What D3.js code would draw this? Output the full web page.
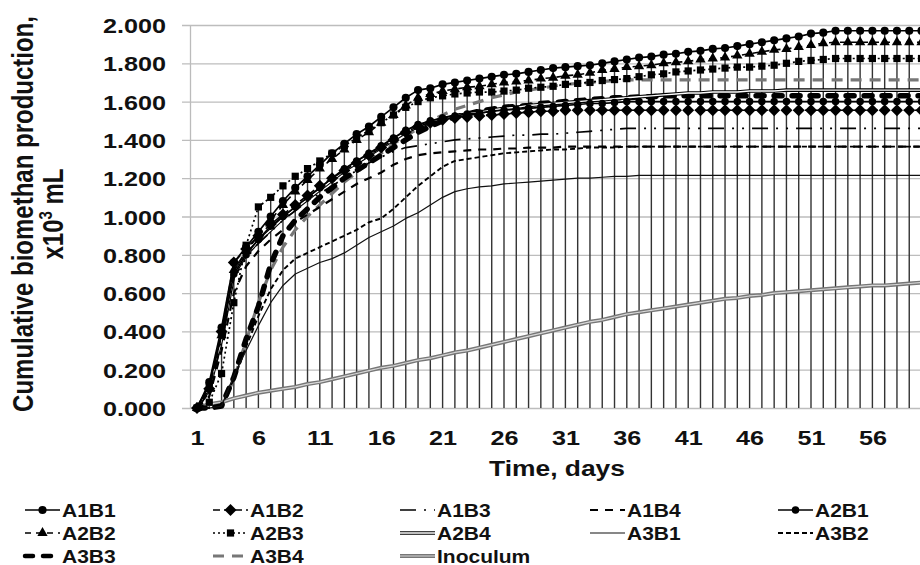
<!DOCTYPE html>
<html>
<head>
<meta charset="utf-8">
<script src="https://cdn.jsdelivr.net/npm/d3@7"></script>
<style>
  html, body { margin: 0; padding: 0; background: #fff; }
  svg { display: block; font-family: "Liberation Sans", Arial, sans-serif; font-weight: bold; }
</style>
</head>
<body>
<svg id="chart" width="920" height="565"></svg>
<script>
// ---- data (x10^3 mL), days 1..60 ----
var days = d3.range(1, 61);
var xTicks = [1, 6, 11, 16, 21, 26, 31, 36, 41, 46, 51, 56];
var yTicks = [0, 0.2, 0.4, 0.6, 0.8, 1.0, 1.2, 1.4, 1.6, 1.8, 2.0];

var A1B1 = [0, 0.135, 0.42, 0.76, 0.84, 0.92, 1.00, 1.08, 1.15, 1.21,
  1.27, 1.33, 1.38, 1.43, 1.47, 1.52, 1.57, 1.62, 1.66, 1.67,
  1.69, 1.70, 1.71, 1.72, 1.73, 1.74, 1.745, 1.755, 1.765, 1.775,
  1.78, 1.785, 1.79, 1.80, 1.81, 1.82, 1.83, 1.835, 1.845, 1.85,
  1.86, 1.865, 1.875, 1.88, 1.89, 1.90, 1.91, 1.92, 1.93, 1.94,
  1.955, 1.96, 1.97, 1.97, 1.97, 1.97, 1.97, 1.97, 1.97, 1.97];
var A1B2 = [0, 0.10, 0.40, 0.76, 0.83, 0.90, 0.96, 1.01, 1.06, 1.11,
  1.16, 1.20, 1.24, 1.28, 1.32, 1.36, 1.40, 1.44, 1.47, 1.49,
  1.505, 1.515, 1.52, 1.525, 1.53, 1.535, 1.54, 1.545, 1.55, 1.55,
  1.555, 1.555, 1.555, 1.555, 1.555, 1.555, 1.555, 1.555, 1.555, 1.555,
  1.555, 1.555, 1.555, 1.555, 1.555, 1.555, 1.555, 1.555, 1.555, 1.555,
  1.555, 1.555, 1.555, 1.555, 1.555, 1.555, 1.555, 1.555, 1.555, 1.555];
var A1B3 = [0, 0.08, 0.35, 0.68, 0.78, 0.86, 0.92, 0.98, 1.03, 1.08,
  1.12, 1.16, 1.20, 1.24, 1.28, 1.31, 1.34, 1.36, 1.37, 1.38,
  1.39, 1.40, 1.405, 1.41, 1.415, 1.42, 1.425, 1.425, 1.43, 1.43,
  1.435, 1.44, 1.445, 1.45, 1.455, 1.46, 1.46, 1.46, 1.46, 1.46,
  1.46, 1.46, 1.46, 1.46, 1.46, 1.46, 1.46, 1.46, 1.46, 1.46,
  1.46, 1.46, 1.46, 1.46, 1.46, 1.46, 1.46, 1.46, 1.46, 1.46];
var A1B4 = [0, 0.06, 0.30, 0.60, 0.74, 0.82, 0.88, 0.93, 0.97, 1.01,
  1.05, 1.09, 1.13, 1.17, 1.20, 1.23, 1.27, 1.30, 1.32, 1.33,
  1.335, 1.34, 1.345, 1.35, 1.35, 1.355, 1.355, 1.36, 1.36, 1.36,
  1.365, 1.365, 1.365, 1.365, 1.365, 1.365, 1.365, 1.365, 1.365, 1.365,
  1.365, 1.365, 1.365, 1.365, 1.365, 1.365, 1.365, 1.365, 1.365, 1.365,
  1.365, 1.365, 1.365, 1.365, 1.365, 1.365, 1.365, 1.365, 1.365, 1.365];
var A2B1 = [0, 0.12, 0.38, 0.70, 0.80, 0.88, 0.95, 1.00, 1.05, 1.10,
  1.15, 1.20, 1.25, 1.29, 1.33, 1.37, 1.41, 1.45, 1.48, 1.50,
  1.515, 1.525, 1.535, 1.54, 1.55, 1.555, 1.56, 1.565, 1.57, 1.575,
  1.58, 1.585, 1.59, 1.59, 1.595, 1.60, 1.60, 1.60, 1.60, 1.60,
  1.60, 1.60, 1.60, 1.60, 1.60, 1.60, 1.60, 1.60, 1.60, 1.60,
  1.60, 1.60, 1.60, 1.60, 1.60, 1.60, 1.60, 1.60, 1.60, 1.60];
var A2B2 = [0, 0.10, 0.38, 0.72, 0.82, 0.90, 0.98, 1.06, 1.13, 1.19,
  1.25, 1.30, 1.35, 1.40, 1.44, 1.49, 1.53, 1.58, 1.62, 1.64,
  1.655, 1.665, 1.675, 1.68, 1.69, 1.70, 1.705, 1.71, 1.72, 1.725,
  1.735, 1.74, 1.75, 1.765, 1.77, 1.78, 1.785, 1.79, 1.80, 1.805,
  1.81, 1.82, 1.825, 1.83, 1.84, 1.85, 1.86, 1.87, 1.875, 1.885,
  1.895, 1.905, 1.91, 1.91, 1.91, 1.91, 1.91, 1.91, 1.91, 1.91];
var A2B3 = [0, 0.03, 0.18, 0.55, 0.85, 1.05, 1.10, 1.16, 1.21, 1.25,
  1.29, 1.33, 1.37, 1.41, 1.45, 1.49, 1.53, 1.57, 1.60, 1.62,
  1.63, 1.64, 1.645, 1.65, 1.65, 1.655, 1.66, 1.67, 1.675, 1.68,
  1.69, 1.695, 1.70, 1.71, 1.715, 1.72, 1.73, 1.74, 1.745, 1.755,
  1.76, 1.765, 1.77, 1.775, 1.78, 1.78, 1.785, 1.79, 1.80, 1.81,
  1.815, 1.82, 1.825, 1.825, 1.825, 1.825, 1.825, 1.825, 1.825, 1.825];
var A2B4 = [0, 0.10, 0.36, 0.70, 0.80, 0.87, 0.93, 0.99, 1.04, 1.09,
  1.14, 1.19, 1.24, 1.28, 1.32, 1.36, 1.40, 1.44, 1.47, 1.49,
  1.51, 1.525, 1.535, 1.545, 1.555, 1.565, 1.57, 1.58, 1.585, 1.59,
  1.595, 1.60, 1.605, 1.61, 1.615, 1.62, 1.625, 1.63, 1.635, 1.64,
  1.645, 1.645, 1.65, 1.65, 1.65, 1.655, 1.655, 1.655, 1.66, 1.66,
  1.66, 1.66, 1.66, 1.66, 1.66, 1.66, 1.66, 1.66, 1.66, 1.66];
var A3B1 = [0, 0, 0.01, 0.17, 0.30, 0.43, 0.55, 0.64, 0.70, 0.73,
  0.76, 0.78, 0.81, 0.85, 0.89, 0.92, 0.95, 0.99, 1.02, 1.06,
  1.10, 1.13, 1.145, 1.155, 1.16, 1.17, 1.175, 1.18, 1.185, 1.19,
  1.195, 1.20, 1.20, 1.205, 1.21, 1.21, 1.215, 1.215, 1.215, 1.215,
  1.215, 1.215, 1.215, 1.215, 1.215, 1.215, 1.215, 1.215, 1.215, 1.215,
  1.215, 1.215, 1.215, 1.215, 1.215, 1.215, 1.215, 1.215, 1.215, 1.215];
var A3B2 = [0, 0, 0.01, 0.15, 0.32, 0.48, 0.62, 0.72, 0.78, 0.81,
  0.84, 0.87, 0.90, 0.93, 0.97, 0.99, 1.04, 1.10, 1.16, 1.21,
  1.26, 1.29, 1.30, 1.31, 1.32, 1.33, 1.335, 1.34, 1.345, 1.35,
  1.35, 1.355, 1.36, 1.36, 1.36, 1.365, 1.365, 1.365, 1.365, 1.365,
  1.365, 1.365, 1.365, 1.365, 1.365, 1.365, 1.365, 1.365, 1.365, 1.365,
  1.365, 1.365, 1.365, 1.365, 1.365, 1.365, 1.365, 1.365, 1.365, 1.365];
var A3B3 = [0, 0, 0.01, 0.16, 0.36, 0.53, 0.75, 0.90, 0.98, 1.04,
  1.10, 1.15, 1.20, 1.24, 1.28, 1.32, 1.36, 1.40, 1.44, 1.47,
  1.50, 1.52, 1.535, 1.55, 1.56, 1.57, 1.575, 1.58, 1.59, 1.595,
  1.60, 1.605, 1.61, 1.615, 1.62, 1.62, 1.625, 1.625, 1.63, 1.63,
  1.63, 1.63, 1.63, 1.63, 1.63, 1.63, 1.63, 1.63, 1.63, 1.63,
  1.63, 1.63, 1.63, 1.63, 1.63, 1.63, 1.63, 1.63, 1.63, 1.63];
var A3B4 = [0, 0, 0.01, 0.15, 0.35, 0.55, 0.72, 0.84, 0.93, 1.00,
  1.06, 1.12, 1.18, 1.23, 1.28, 1.33, 1.38, 1.42, 1.46, 1.50,
  1.53, 1.56, 1.58, 1.60, 1.62, 1.635, 1.65, 1.66, 1.67, 1.68,
  1.69, 1.695, 1.70, 1.705, 1.71, 1.713, 1.713, 1.713, 1.713, 1.713,
  1.713, 1.713, 1.713, 1.713, 1.713, 1.713, 1.713, 1.713, 1.713, 1.713,
  1.713, 1.713, 1.713, 1.713, 1.713, 1.713, 1.713, 1.713, 1.713, 1.713];
var Inoculum = [0, 0.02, 0.03, 0.05, 0.065, 0.08, 0.09, 0.10, 0.11, 0.125,
  0.135, 0.15, 0.165, 0.18, 0.195, 0.21, 0.22, 0.235, 0.25, 0.26,
  0.275, 0.29, 0.30, 0.315, 0.33, 0.345, 0.36, 0.375, 0.39, 0.405,
  0.42, 0.435, 0.45, 0.46, 0.475, 0.49, 0.50, 0.51, 0.52, 0.53,
  0.54, 0.55, 0.56, 0.57, 0.575, 0.585, 0.59, 0.60, 0.605, 0.61,
  0.615, 0.62, 0.625, 0.63, 0.635, 0.64, 0.64, 0.645, 0.65, 0.655];

// series, in legend order
var series = [
  {name: 'A1B1', values: A1B1, stroke: '#000', width: 1.7, marker: 'circle', msize: 52},
  {name: 'A1B2', values: A1B2, stroke: '#000', width: 1.6, dash: '7,4', marker: 'diamond', msize: 72},
  {name: 'A1B3', values: A1B3, stroke: '#000', width: 1.7, dash: '16,8,2,8,2,8'},
  {name: 'A1B4', values: A1B4, stroke: '#000', width: 2.2, dash: '8,7'},
  {name: 'A2B1', values: A2B1, stroke: '#000', width: 1.7, marker: 'circle', msize: 44},
  {name: 'A2B2', values: A2B2, stroke: '#000', width: 1.6, dash: '6,5', marker: 'triangle', msize: 46},
  {name: 'A2B3', values: A2B3, stroke: '#000', width: 1.7, dash: '2,3', marker: 'square', msize: 52},
  {name: 'A2B4', values: A2B4, stroke: '#000', width: 3.6, inner: '#fff', innerWidth: 1.4},
  {name: 'A3B1', values: A3B1, stroke: '#111', width: 1.2},
  {name: 'A3B2', values: A3B2, stroke: '#000', width: 1.9, dash: '5,3'},
  {name: 'A3B3', values: A3B3, stroke: '#000', width: 5.5, dash: '8,10', cap: 'round'},
  {name: 'A3B4', values: A3B4, stroke: '#777', width: 3.2, dash: '11,8'},
  {name: 'Inoculum', values: Inoculum, stroke: '#777', width: 4, inner: '#d8d8d8', innerWidth: 1.2}
];

var W = 920, H = 565;
var svg = d3.select('#chart');
var SX = 1.2; // the picture's text is stretched sideways

var x = d3.scaleLinear().domain([1, 60]).range([197, 197 + 59 * 12.28]);
var y = d3.scaleLinear().domain([0, 2]).range([408, 25]);

//////////////////////////////////////////////////
// grid + axis
//////////////////////////////////////////////////
var yAxis = d3.axisLeft(y)
  .tickValues(yTicks)
  .tickFormat(d3.format('.3f'))
  .tickSizeInner(-(W - 190))
  .tickSizeOuter(0);

var gy = svg.append('g')
  .attr('transform', 'translate(190,0)')
  .call(yAxis);
gy.select('.domain').attr('stroke', '#bbb').attr('stroke-width', 1.3);
gy.selectAll('.tick line')
  .attr('x1', -8)
  .attr('stroke', '#bdbdbd')
  .attr('stroke-width', 1.3);
gy.selectAll('.tick text')
  .attr('x', 0)
  .attr('dy', '0.36em')
  .attr('transform', 'translate(-24,0) scale(' + SX + ',1)')
  .attr('fill', '#111')
  .style('font-size', '21px')
  .style('font-family', '"Liberation Sans", Arial, sans-serif')
  .style('font-weight', 'bold');

// drop lines from the highest point of each day down to the axis
var tops = days.map(function(d, i) {
  return d3.max(series, function(s) { return s.values[i]; });
});
svg.append('g').selectAll('line')
  .data(days.filter(function(d, i) { return tops[i] > 0; }))
  .join('line')
  .attr('x1', function(d) { return x(d); })
  .attr('x2', function(d) { return x(d); })
  .attr('y1', function(d) { return y(tops[d - 1]); })
  .attr('y2', y(0))
  .attr('stroke', '#333')
  .attr('stroke-width', 1.4);

// x tick labels
var xAxis = d3.axisBottom(x).tickValues(xTicks).tickSize(0).tickFormat(d3.format('d'));
var gx = svg.append('g').attr('transform', 'translate(0,' + y(0) + ')').call(xAxis);
gx.select('.domain').remove();
gx.selectAll('.tick text')
  .attr('y', 0)
  .attr('dy', 0)
  .attr('transform', 'translate(0,37) scale(' + SX + ',1)')
  .attr('fill', '#111')
  .style('font-size', '21px')
  .style('font-family', '"Liberation Sans", Arial, sans-serif')
  .style('font-weight', 'bold');

//////////////////////////////////////////////////
// series
//////////////////////////////////////////////////
var line = d3.line()
  .x(function(d, i) { return x(days[i]); })
  .y(function(d) { return y(d); });

function symbolFor(s) {
  if (s.marker === 'circle') return d3.symbol(d3.symbolCircle, s.msize)();
  if (s.marker === 'diamond') return d3.symbol(d3.symbolSquare, s.msize)();
  if (s.marker === 'triangle') return d3.symbol(d3.symbolTriangle, s.msize)();
  if (s.marker === 'square') return d3.symbol(d3.symbolSquare, s.msize)();
  return null;
}

function styleLine(p, s, inner) {
  p.attr('fill', 'none')
    .attr('stroke', inner ? s.inner : s.stroke)
    .attr('stroke-width', inner ? s.innerWidth : s.width)
    .attr('stroke-dasharray', inner ? null : (s.dash || null))
    .attr('stroke-linecap', s.cap || 'butt')
    .attr('stroke-linejoin', 'round');
}

var drawOrder = series.slice().reverse();
var gs = svg.append('g');
drawOrder.forEach(function(s) {
  var g = gs.append('g');
  g.append('path').datum(s.values).attr('d', line).call(styleLine, s, false);
  if (s.inner) g.append('path').datum(s.values).attr('d', line).call(styleLine, s, true);
  if (s.marker) {
    g.selectAll('path.m')
      .data(s.values)
      .join('path')
      .attr('class', 'm')
      .attr('d', symbolFor(s))
      .attr('fill', '#000')
      .attr('transform', function(d, i) {
        return 'translate(' + x(days[i]) + ',' + y(d) + ')' + (s.marker === 'diamond' ? ' rotate(45)' : '');
      });
  }
});

//////////////////////////////////////////////////
// titles
//////////////////////////////////////////////////
svg.append('text')
  .attr('transform', 'translate(557,476) scale(' + SX + ',1)')
  .attr('text-anchor', 'middle')
  .attr('fill', '#111')
  .style('font-size', '22px')
  .text('Time, days');

svg.append('text')
  .attr('transform', 'translate(33,214) scale(' + SX + ',1) rotate(-90)')
  .attr('text-anchor', 'middle')
  .attr('fill', '#111')
  .style('font-size', '24px')
  .text('Cumulative biomethan production,');

var t2 = svg.append('text')
  .attr('transform', 'translate(63,214) scale(' + SX + ',1) rotate(-90)')
  .attr('text-anchor', 'middle')
  .attr('fill', '#111')
  .style('font-size', '24px');
t2.append('tspan').text('x10');
t2.append('tspan').attr('dy', -9).style('font-size', '15px').text('3');
t2.append('tspan').attr('dy', 9).text(' mL');

//////////////////////////////////////////////////
// legend
//////////////////////////////////////////////////
var legX = [25, 213, 400, 590, 778];
var legY = [510, 533, 556];
var gl = svg.append('g');
series.forEach(function(s, k) {
  var lx = legX[k % 5], ly = legY[Math.floor(k / 5)];
  var g = gl.append('g');
  var seg = [[lx, ly], [lx + 35, ly]];
  var sw = Math.min(s.width, 4.5);
  g.append('path').attr('d', d3.line()(seg)).call(styleLine, s, false).attr('stroke-width', sw);
  if (s.inner) g.append('path').attr('d', d3.line()(seg)).call(styleLine, s, true);
  if (s.marker) {
    g.append('path')
      .attr('d', symbolFor(s))
      .attr('fill', '#000')
      .attr('transform', 'translate(' + (lx + 17.5) + ',' + ly + ')' + (s.marker === 'diamond' ? ' rotate(45)' : ''));
  }
  g.append('text')
    .attr('transform', 'translate(' + (lx + 37) + ',' + (ly + 6.5) + ') scale(' + SX + ',1)')
    .attr('fill', '#111')
    .style('font-size', '17.5px')
    .text(s.name);
});
</script>
</body>
</html>
